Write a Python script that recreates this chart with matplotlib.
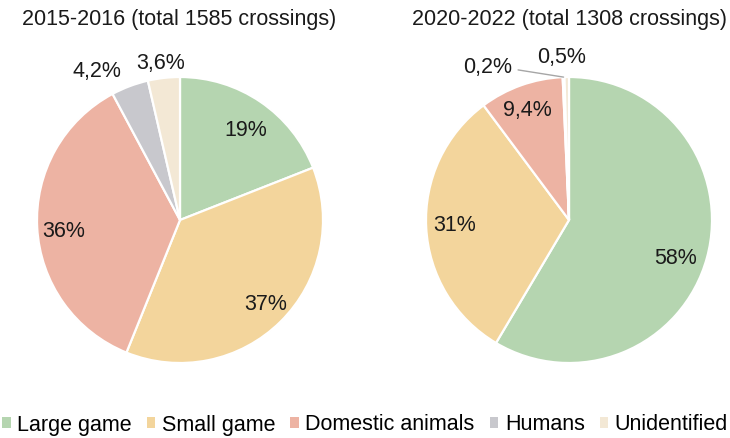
import numpy as np
import matplotlib
matplotlib.use("Agg")
import matplotlib.pyplot as plt
from matplotlib.patches import Patch

plt.rcParams["font.family"] = ["Liberation Sans", "DejaVu Sans"]

categories = ["Large game", "Small game", "Domestic animals", "Humans", "Unidentified"]
colors = ["#b5d5b0", "#f3d59c", "#edb3a3", "#c8c8cd", "#f3e8d5"]

title_2015 = "2015-2016 (total 1585 crossings)"
share_2015 = [19, 37, 36, 4.2, 3.6]

title_2020 = "2020-2022 (total 1308 crossings)"
share_2020 = [58, 31, 9.4, 0.2, 0.5]

# label placement per slice: radius (in pie radii) and angular nudge (deg)
label_r_2015 = [0.78, 0.84, 0.82, 1.19, 1.105]
label_dt_2015 = [-2, 0.7, 2.8, 8.6, 0.4]
label_r_2020 = [0.79, 0.80, 0.82, None, 1.14]
label_dt_2020 = [-4.7, 0, 1, 0, 1.6]

W, H = 730, 438
FS = 15.5


def fmt(v):
    s = f"{v:g}".replace(".", ",")
    return s + "%"


def draw_pie(ax, values, radii, nudges, callout=None):
    wedges, _ = ax.pie(values, colors=colors, startangle=90, counterclock=False,
                       radius=1.0,
                       wedgeprops=dict(edgecolor="white", linewidth=1.6))
    for i, (w, v) in enumerate(zip(wedges, values)):
        mid = np.deg2rad((w.theta1 + w.theta2) / 2)
        if callout is not None and i == callout[0]:
            tx, ty = callout[1]
            ax.annotate(fmt(v), xy=(np.cos(mid), np.sin(mid)), xytext=(tx, ty),
                        ha="center", va="center", fontsize=FS, color="#1a1a1a",
                        arrowprops=dict(arrowstyle="-", color="#a6a6a6", lw=1.0,
                                        relpos=(1.0, 0.45), shrinkA=2, shrinkB=0))
            continue
        ang = mid + np.deg2rad(nudges[i])
        r = radii[i]
        ax.text(r * np.cos(ang), r * np.sin(ang), fmt(v), ha="center", va="center",
                fontsize=FS, color="#1a1a1a")
    ax.set_xlim(-1.25, 1.25)
    ax.set_ylim(-1.25, 1.25)
    ax.set_aspect("equal")
    ax.axis("off")
    return wedges


fig = plt.figure(figsize=(W / 100, H / 100), dpi=100)

R = 143
size = 2.5 * R
for cx, cy, vals, radii, nudges, title, tx, call in [
    (180, 220, share_2015, label_r_2015, label_dt_2015, title_2015, 179, None),
    (569, 220, share_2020, label_r_2020, label_dt_2020, title_2020, 570, (3, (-0.566, 1.063))),
]:
    ax = fig.add_axes([(cx - size / 2) / W, (H - cy - size / 2) / H, size / W, size / H])
    wedges = draw_pie(ax, vals, radii, nudges, callout=call)
    fig.text(tx / W, 1 - 19 / H, title, ha="center", va="center", fontsize=FS,
             color="#1a1a1a")

handles = [Patch(facecolor=c, edgecolor="none", label=n) for c, n in zip(colors, categories)]
fig.legend(handles=handles, loc="center", bbox_to_anchor=(0.5, 1 - 425 / H),
           ncol=5, frameon=False, fontsize=FS, handlelength=0.4, handleheight=0.4,
           handletextpad=0.3, columnspacing=0.7, borderaxespad=0)

fig.savefig("out.png", dpi=100)
